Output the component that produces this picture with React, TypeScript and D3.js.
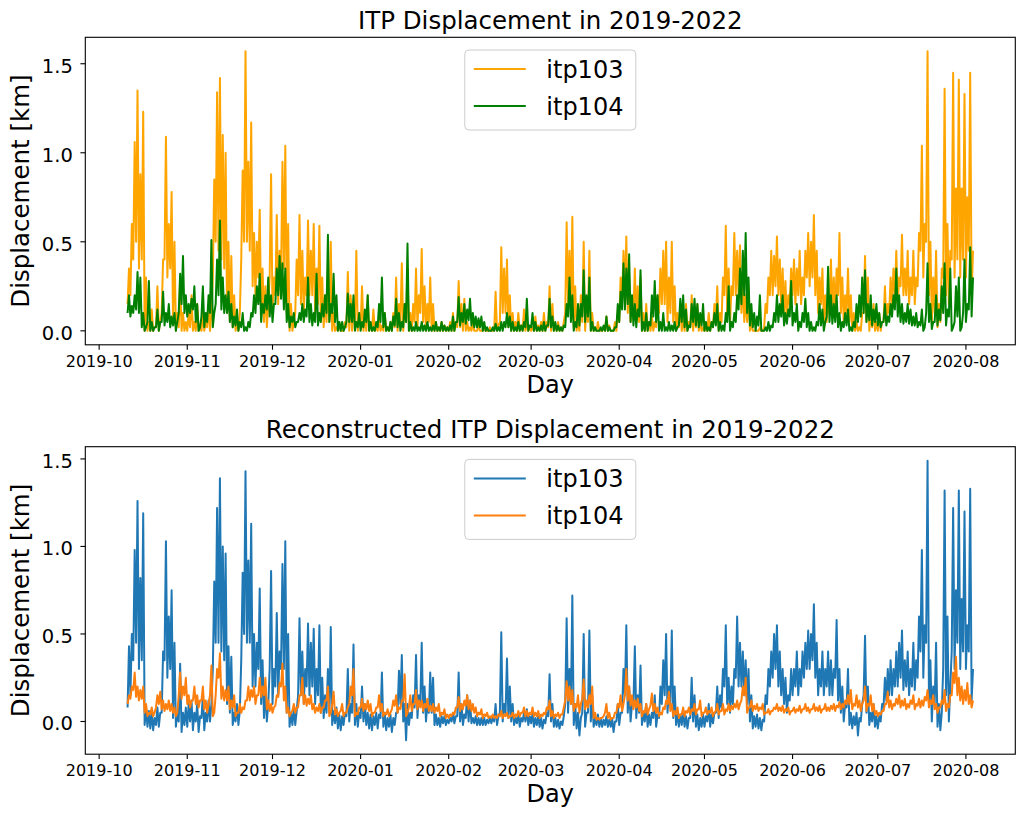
import React from 'react';
import * as d3 from 'd3';

// daily highs and lows, 2019-10-11 .. 2020-08-03 (one row per month)
const startDay = '2019-10-11';

const obsItp103 = [
  0.35, 0.6, 1.06, 1.35, 0.88, 1.23, 0.3, 0.05, 0.12, 0.02, 0.25, 0.05, 0.4, 1.09, 0.6, 0.78, 0.5, 0.1, 0.3, 0.1, 0.05,
  0.1, 0.2, 0.05, 0.15, 0.02, 0.1, 0.05, 0.15, 0.1, 0.85, 1.34, 1.42, 1.1, 1.0, 0.5, 0.42, 0.2, 0.05, 0.1, 0.9, 1.57, 0.95, 1.17, 0.55, 0.5, 0.68, 0.35, 0.25, 0.15, 0.88,
  0.3, 0.65, 0.45, 0.95, 1.04, 0.6, 0.15, 0.05, 0.4, 0.65, 0.45, 0.3, 0.62, 0.45, 0.6, 0.35, 0.59, 0.3, 0.2, 0.3, 0.5, 0.1, 0.02, 0.05, 0.0, 0.05, 0.33, 0.2, 0.1, 0.45, 0.1,
  0.25, 0.1, 0.2, 0.05, 0.12, 0.02, 0.08, 0.03, 0.1, 0.02, 0.05, 0.1, 0.3, 0.15, 0.38, 0.15, 0.35, 0.1, 0.15, 0.35, 0.2, 0.46, 0.25, 0.15, 0.3, 0.15, 0.05, 0.02, 0.05, 0.03, 0.02,
  0.05, 0.1, 0.05, 0.28, 0.15, 0.18, 0.05, 0.02, 0.05, 0.0, 0.03, 0.0, 0.02, 0.0, 0.02, 0.0, 0.22, 0.03, 0.47, 0.35, 0.4, 0.2, 0.1, 0.05, 0.1, 0.03, 0.12, 0.05, 0.02,
  0.02, 0.08, 0.03, 0.05, 0.1, 0.05, 0.25, 0.15, 0.03, 0.05, 0.02, 0.05, 0.61, 0.45, 0.64, 0.25, 0.05, 0.2, 0.5, 0.15, 0.45, 0.1, 0.02, 0.05, 0.0, 0.02, 0.08, 0.03, 0.0, 0.05, 0.1,
  0.3, 0.45, 0.53, 0.3, 0.2, 0.35, 0.25, 0.3, 0.1, 0.15, 0.05, 0.08, 0.05, 0.2, 0.35, 0.45, 0.5, 0.3, 0.5, 0.25, 0.1, 0.15, 0.08, 0.15, 0.05, 0.2, 0.1, 0.15, 0.05, 0.02,
  0.02, 0.1, 0.05, 0.15, 0.25, 0.1, 0.3, 0.59, 0.35, 0.25, 0.55, 0.45, 0.48, 0.3, 0.2, 0.25, 0.05, 0.0, 0.0, 0.02, 0.0, 0.15, 0.3, 0.45, 0.42, 0.53, 0.4, 0.35, 0.28, 0.2, 0.35,
  0.4, 0.35, 0.45, 0.3, 0.45, 0.55, 0.5, 0.65, 0.45, 0.3, 0.35, 0.2, 0.15, 0.4, 0.3, 0.35, 0.55, 0.3, 0.2, 0.35, 0.2, 0.1, 0.05, 0.02, 0.1, 0.42, 0.3, 0.1, 0.15, 0.05,
  0.1, 0.05, 0.25, 0.15, 0.3, 0.35, 0.45, 0.3, 0.54, 0.35, 0.45, 0.3, 0.45, 0.3, 0.55, 1.04, 0.6, 1.57, 0.5, 0.3, 0.45, 0.15, 0.35, 1.36, 0.6, 0.45, 1.45, 0.8, 1.41, 0.8, 1.33,
  0.75, 1.45, 0.45,
];
const obsItp103Low = [
  0.15, 0.2, 0.4, 0.5, 0.35, 0.4, 0.0, 0.0, 0.0, 0.0, 0.02, 0.0, 0.1, 0.4, 0.3, 0.35, 0.05, 0.0, 0.02, 0.0, 0.0,
  0.0, 0.02, 0.0, 0.0, 0.0, 0.0, 0.0, 0.02, 0.0, 0.3, 0.5, 0.45, 0.4, 0.35, 0.1, 0.05, 0.02, 0.0, 0.0, 0.4, 0.5, 0.5, 0.45, 0.25, 0.2, 0.3, 0.1, 0.05, 0.02, 0.3,
  0.1, 0.2, 0.15, 0.3, 0.35, 0.1, 0.0, 0.0, 0.1, 0.2, 0.15, 0.1, 0.2, 0.2, 0.2, 0.1, 0.15, 0.05, 0.02, 0.05, 0.05, 0.0, 0.0, 0.0, 0.0, 0.0, 0.02, 0.0, 0.0, 0.05, 0.0,
  0.02, 0.0, 0.0, 0.0, 0.0, 0.0, 0.0, 0.0, 0.0, 0.0, 0.0, 0.0, 0.02, 0.0, 0.05, 0.0, 0.05, 0.0, 0.0, 0.05, 0.02, 0.1, 0.05, 0.0, 0.05, 0.0, 0.0, 0.0, 0.0, 0.0, 0.0,
  0.0, 0.0, 0.0, 0.02, 0.02, 0.0, 0.0, 0.0, 0.0, 0.0, 0.0, 0.0, 0.0, 0.0, 0.0, 0.0, 0.0, 0.0, 0.05, 0.1, 0.1, 0.02, 0.0, 0.0, 0.0, 0.0, 0.0, 0.0, 0.0,
  0.0, 0.0, 0.0, 0.0, 0.0, 0.0, 0.02, 0.0, 0.0, 0.0, 0.0, 0.0, 0.1, 0.15, 0.1, 0.02, 0.0, 0.0, 0.05, 0.0, 0.05, 0.0, 0.0, 0.0, 0.0, 0.0, 0.0, 0.0, 0.0, 0.0, 0.0,
  0.05, 0.15, 0.2, 0.1, 0.05, 0.1, 0.05, 0.05, 0.0, 0.0, 0.0, 0.0, 0.0, 0.02, 0.1, 0.15, 0.15, 0.05, 0.1, 0.05, 0.0, 0.02, 0.0, 0.0, 0.0, 0.02, 0.0, 0.02, 0.0, 0.0,
  0.0, 0.0, 0.0, 0.02, 0.05, 0.0, 0.05, 0.2, 0.1, 0.05, 0.2, 0.2, 0.2, 0.1, 0.05, 0.05, 0.0, 0.0, 0.0, 0.0, 0.0, 0.02, 0.1, 0.2, 0.2, 0.25, 0.2, 0.15, 0.1, 0.05, 0.15,
  0.2, 0.15, 0.2, 0.15, 0.2, 0.3, 0.25, 0.3, 0.2, 0.1, 0.15, 0.05, 0.05, 0.1, 0.1, 0.1, 0.2, 0.1, 0.05, 0.1, 0.05, 0.0, 0.0, 0.0, 0.0, 0.1, 0.05, 0.0, 0.02, 0.0,
  0.0, 0.0, 0.05, 0.05, 0.1, 0.15, 0.2, 0.15, 0.25, 0.2, 0.2, 0.15, 0.2, 0.15, 0.25, 0.45, 0.3, 0.5, 0.2, 0.05, 0.1, 0.02, 0.05, 0.3, 0.2, 0.15, 0.4, 0.3, 0.4, 0.3, 0.4,
  0.3, 0.45, 0.2,
];

const obsItp104 = [
  0.2, 0.14, 0.2, 0.33, 0.3, 0.1, 0.02, 0.28, 0.05, 0.02, 0.12, 0.05, 0.22, 0.1, 0.15, 0.08, 0.1, 0.05, 0.32, 0.42, 0.2,
  0.15, 0.18, 0.25, 0.15, 0.02, 0.25, 0.1, 0.2, 0.51, 0.1, 0.4, 0.62, 0.3, 0.2, 0.22, 0.15, 0.08, 0.12, 0.05, 0.1, 0.02, 0.05, 0.1, 0.2, 0.25, 0.32, 0.15, 0.2, 0.3, 0.2,
  0.15, 0.35, 0.42, 0.38, 0.35, 0.15, 0.08, 0.1, 0.05, 0.1, 0.15, 0.12, 0.3, 0.15, 0.1, 0.32, 0.1, 0.15, 0.2, 0.54, 0.15, 0.32, 0.2, 0.05, 0.05, 0.02, 0.21, 0.15, 0.2, 0.05, 0.1,
  0.05, 0.12, 0.2, 0.05, 0.02, 0.05, 0.15, 0.3, 0.1, 0.02, 0.05, 0.08, 0.18, 0.1, 0.05, 0.15, 0.49, 0.05, 0.02, 0.05, 0.02, 0.05, 0.03, 0.05, 0.02, 0.03, 0.05, 0.02, 0.05, 0.03, 0.02,
  0.03, 0.08, 0.05, 0.19, 0.1, 0.15, 0.12, 0.18, 0.1, 0.08, 0.07, 0.08, 0.05, 0.02, 0.0, 0.02, 0.04, 0.02, 0.05, 0.05, 0.1, 0.08, 0.05, 0.02, 0.05, 0.03, 0.05, 0.18, 0.03,
  0.1, 0.05, 0.02, 0.03, 0.05, 0.03, 0.18, 0.08, 0.05, 0.03, 0.02, 0.03, 0.15, 0.3, 0.2, 0.05, 0.15, 0.15, 0.34, 0.2, 0.3, 0.05, 0.02, 0.0, 0.02, 0.03, 0.08, 0.02, 0.0, 0.02, 0.15,
  0.22, 0.38, 0.35, 0.43, 0.2, 0.15, 0.12, 0.34, 0.05, 0.1, 0.05, 0.2, 0.28, 0.2, 0.05, 0.1, 0.02, 0.05, 0.03, 0.05, 0.02, 0.18, 0.2, 0.12, 0.03, 0.15, 0.18, 0.15, 0.1, 0.15,
  0.05, 0.02, 0.05, 0.1, 0.15, 0.05, 0.03, 0.1, 0.25, 0.05, 0.1, 0.2, 0.35, 0.45, 0.55, 0.3, 0.15, 0.1, 0.08, 0.2, 0.0, 0.02, 0.05, 0.03, 0.1, 0.2, 0.15, 0.2, 0.1, 0.12, 0.28,
  0.1, 0.15, 0.05, 0.1, 0.18, 0.1, 0.05, 0.02, 0.05, 0.15, 0.12, 0.05, 0.36, 0.2, 0.15, 0.2, 0.1, 0.05, 0.1, 0.12, 0.02, 0.05, 0.15, 0.2, 0.3, 0.34, 0.15, 0.2, 0.12, 0.15,
  0.1, 0.05, 0.15, 0.08, 0.15, 0.2, 0.35, 0.2, 0.15, 0.1, 0.15, 0.12, 0.08, 0.1, 0.05, 0.12, 0.02, 0.38, 0.15, 0.05, 0.2, 0.12, 0.25, 0.38, 0.12, 0.35, 0.02, 0.25, 0.3, 0.02, 0.4,
  0.15, 0.47, 0.3,
];
const obsItp104Low = [
  0.1, 0.08, 0.1, 0.12, 0.1, 0.02, 0.0, 0.05, 0.0, 0.0, 0.02, 0.0, 0.05, 0.03, 0.05, 0.02, 0.03, 0.0, 0.1, 0.15, 0.1,
  0.08, 0.1, 0.12, 0.05, 0.0, 0.08, 0.02, 0.05, 0.1, 0.02, 0.15, 0.2, 0.12, 0.1, 0.1, 0.05, 0.02, 0.03, 0.0, 0.02, 0.0, 0.0, 0.02, 0.08, 0.1, 0.15, 0.05, 0.1, 0.12, 0.08,
  0.05, 0.15, 0.2, 0.18, 0.12, 0.05, 0.02, 0.05, 0.02, 0.05, 0.06, 0.05, 0.08, 0.05, 0.03, 0.05, 0.03, 0.05, 0.08, 0.1, 0.05, 0.1, 0.05, 0.0, 0.0, 0.0, 0.05, 0.05, 0.05, 0.0, 0.02,
  0.0, 0.02, 0.05, 0.0, 0.0, 0.0, 0.02, 0.05, 0.02, 0.0, 0.0, 0.0, 0.03, 0.02, 0.0, 0.02, 0.05, 0.0, 0.0, 0.0, 0.0, 0.0, 0.0, 0.0, 0.0, 0.0, 0.0, 0.0, 0.0, 0.0, 0.0,
  0.0, 0.0, 0.0, 0.05, 0.03, 0.05, 0.04, 0.06, 0.03, 0.02, 0.02, 0.02, 0.0, 0.0, 0.0, 0.0, 0.0, 0.0, 0.0, 0.0, 0.02, 0.02, 0.0, 0.0, 0.0, 0.0, 0.0, 0.02, 0.0,
  0.02, 0.0, 0.0, 0.0, 0.0, 0.0, 0.03, 0.02, 0.0, 0.0, 0.0, 0.0, 0.02, 0.08, 0.05, 0.0, 0.02, 0.03, 0.08, 0.05, 0.08, 0.0, 0.0, 0.0, 0.0, 0.0, 0.0, 0.0, 0.0, 0.0, 0.02,
  0.05, 0.12, 0.12, 0.15, 0.05, 0.03, 0.02, 0.08, 0.0, 0.0, 0.0, 0.03, 0.08, 0.05, 0.0, 0.0, 0.0, 0.0, 0.0, 0.0, 0.0, 0.03, 0.05, 0.02, 0.0, 0.02, 0.05, 0.03, 0.02, 0.03,
  0.0, 0.0, 0.0, 0.02, 0.03, 0.0, 0.0, 0.0, 0.05, 0.0, 0.02, 0.05, 0.12, 0.15, 0.2, 0.1, 0.03, 0.02, 0.0, 0.03, 0.0, 0.0, 0.0, 0.0, 0.02, 0.05, 0.05, 0.08, 0.03, 0.04, 0.08,
  0.03, 0.05, 0.0, 0.02, 0.05, 0.02, 0.0, 0.0, 0.0, 0.03, 0.03, 0.0, 0.08, 0.05, 0.04, 0.05, 0.02, 0.0, 0.02, 0.03, 0.0, 0.0, 0.02, 0.05, 0.08, 0.1, 0.05, 0.06, 0.03, 0.05,
  0.03, 0.02, 0.05, 0.03, 0.05, 0.08, 0.12, 0.08, 0.05, 0.04, 0.05, 0.04, 0.03, 0.03, 0.02, 0.03, 0.0, 0.1, 0.05, 0.01, 0.05, 0.03, 0.06, 0.1, 0.03, 0.08, 0.0, 0.05, 0.08, 0.0, 0.1,
  0.05, 0.12, 0.08,
];

const recItp103 = [
  0.43, 0.5, 0.98, 1.26, 0.82, 1.19, 0.08, 0.06, 0.05, 0.02, 0.08, 0.05, 0.4, 1.03, 0.6, 0.75, 0.45, 0.05, 0.33, 0.05, 0.08,
  0.1, 0.12, 0.05, 0.1, 0.03, 0.15, 0.05, 0.12, 0.1, 0.8, 1.22, 1.39, 1.0, 0.96, 0.43, 0.37, 0.05, 0.1, 0.06, 0.85, 1.43, 0.92, 1.13, 0.5, 0.45, 0.76, 0.35, 0.2, 0.1, 0.86,
  0.3, 0.62, 0.4, 0.9, 1.03, 0.5, 0.05, 0.08, 0.06, 0.59, 0.4, 0.3, 0.56, 0.45, 0.53, 0.3, 0.55, 0.25, 0.15, 0.3, 0.54, 0.06, 0.08, 0.04, 0.03, 0.05, 0.3, 0.1, 0.44, 0.1, 0.05,
  0.2, 0.1, 0.05, 0.04, 0.03, 0.05, 0.04, 0.28, 0.05, 0.02, 0.04, 0.02, 0.05, 0.29, 0.38, 0.1, 0.1, 0.05, 0.15, 0.38, 0.15, 0.45, 0.2, 0.1, 0.28, 0.25, 0.04, 0.02, 0.03, 0.03, 0.01,
  0.02, 0.05, 0.03, 0.28, 0.1, 0.04, 0.15, 0.12, 0.02, 0.03, 0.02, 0.02, 0.02, 0.01, 0.02, 0.02, 0.1, 0.03, 0.51, 0.1, 0.36, 0.2, 0.1, 0.02, 0.05, 0.02, 0.05, 0.07, 0.03,
  0.05, 0.02, 0.03, 0.02, 0.01, 0.05, 0.27, 0.1, 0.02, 0.01, 0.0, 0.03, 0.59, 0.3, 0.72, 0.1, 0.05, 0.02, 0.5, 0.05, 0.52, 0.15, 0.02, 0.04, 0.02, 0.01, 0.03, 0.01, 0.02, 0.0, 0.1,
  0.05, 0.3, 0.55, 0.2, 0.1, 0.43, 0.15, 0.32, 0.05, 0.1, 0.04, 0.05, 0.15, 0.04, 0.2, 0.35, 0.5, 0.2, 0.52, 0.2, 0.05, 0.04, 0.05, 0.03, 0.02, 0.25, 0.15, 0.04, 0.02, 0.04,
  0.03, 0.1, 0.04, 0.05, 0.2, 0.15, 0.3, 0.55, 0.25, 0.2, 0.3, 0.6, 0.45, 0.4, 0.35, 0.3, 0.15, 0.03, 0.04, 0.02, 0.01, 0.15, 0.3, 0.4, 0.5, 0.55, 0.4, 0.3, 0.25, 0.15, 0.3,
  0.3, 0.4, 0.3, 0.4, 0.45, 0.52, 0.5, 0.67, 0.45, 0.3, 0.4, 0.3, 0.4, 0.35, 0.3, 0.58, 0.3, 0.2, 0.1, 0.3, 0.05, 0.03, 0.05, 0.02, 0.1, 0.49, 0.2, 0.05, 0.1, 0.03,
  0.03, 0.1, 0.25, 0.3, 0.35, 0.3, 0.4, 0.45, 0.52, 0.35, 0.4, 0.3, 0.45, 0.35, 0.6, 0.98, 0.55, 1.49, 0.35, 0.2, 0.45, 0.1, 0.05, 1.32, 0.6, 0.2, 1.22, 0.75, 1.32, 0.7, 1.2,
  0.55, 1.33, 0.3,
];
const recItp103Low = [
  0.08, 0.15, 0.35, 0.45, 0.3, 0.35, -0.02, -0.03, -0.04, -0.05, -0.02, -0.03, 0.05, 0.35, 0.25, 0.3, 0.02, -0.03, 0.0, -0.06, -0.02,
  -0.03, 0.0, -0.05, 0.0, -0.06, 0.02, -0.05, 0.0, 0.0, 0.3, 0.45, 0.45, 0.4, 0.35, 0.1, 0.05, -0.02, 0.0, -0.02, 0.35, 0.5, 0.45, 0.45, 0.2, 0.2, 0.3, 0.1, 0.02, 0.0, 0.3,
  0.1, 0.2, 0.15, 0.3, 0.3, 0.05, -0.03, -0.02, -0.02, 0.15, 0.15, 0.1, 0.2, 0.15, 0.2, 0.1, 0.15, 0.05, 0.02, 0.05, 0.05, -0.02, -0.01, -0.04, -0.05, -0.02, 0.03, 0.0, 0.05, -0.02, -0.03,
  0.02, 0.0, -0.02, -0.04, -0.05, -0.02, -0.04, 0.02, -0.03, -0.05, -0.03, -0.06, -0.02, 0.05, 0.1, 0.0, -0.107, -0.02, 0.02, 0.08, 0.02, 0.1, 0.05, 0.0, 0.05, 0.05, -0.02, -0.02, -0.03, -0.01, -0.02,
  -0.01, 0.0, -0.01, 0.03, 0.0, -0.02, 0.02, 0.0, -0.01, -0.01, -0.02, -0.02, -0.02, -0.02, -0.01, -0.01, 0.0, -0.02, 0.05, 0.0, 0.05, 0.02, 0.0, -0.02, -0.01, -0.03, 0.0, 0.0, -0.02,
  -0.01, -0.03, -0.02, -0.03, -0.04, -0.01, 0.03, 0.0, -0.03, -0.03, -0.04, -0.02, 0.1, 0.05, 0.1, -0.02, -0.04, -0.08, 0.05, -0.03, 0.05, 0.0, -0.03, -0.02, -0.03, -0.03, -0.02, -0.03, -0.03, -0.06, 0.0,
  -0.02, 0.05, 0.15, 0.05, 0.0, 0.1, 0.02, 0.05, -0.02, 0.0, -0.03, -0.02, 0.02, -0.03, 0.02, 0.1, 0.15, 0.05, 0.1, 0.02, -0.02, -0.03, -0.02, -0.03, -0.04, 0.02, 0.0, -0.03, -0.05, -0.03,
  -0.03, 0.0, -0.03, -0.01, 0.05, 0.02, 0.08, 0.2, 0.1, 0.05, 0.1, 0.25, 0.2, 0.2, 0.15, 0.1, 0.0, -0.04, -0.03, -0.04, -0.05, 0.0, 0.1, 0.2, 0.25, 0.3, 0.2, 0.15, 0.1, 0.05, 0.12,
  0.15, 0.2, 0.15, 0.2, 0.25, 0.3, 0.3, 0.35, 0.25, 0.15, 0.2, 0.15, 0.2, 0.15, 0.15, 0.25, 0.12, 0.05, 0.0, 0.08, -0.02, -0.04, -0.02, -0.08, 0.0, 0.15, 0.05, -0.02, 0.0, -0.03,
  -0.04, 0.0, 0.08, 0.12, 0.15, 0.15, 0.2, 0.2, 0.25, 0.18, 0.2, 0.15, 0.2, 0.18, 0.25, 0.4, 0.25, 0.45, 0.1, 0.0, 0.1, -0.03, -0.05, 0.3, 0.15, 0.0, 0.4, 0.3, 0.45, 0.3, 0.4,
  0.3, 0.4, 0.12,
];

const recItp104 = [
  0.15, 0.2, 0.28, 0.2, 0.18, 0.2, 0.1, 0.05, 0.08, 0.05, 0.15, 0.17, 0.12, 0.1, 0.12, 0.1, 0.08, 0.05, 0.28, 0.2, 0.25,
  0.15, 0.12, 0.2, 0.15, 0.12, 0.2, 0.12, 0.1, 0.32, 0.05, 0.3, 0.39, 0.2, 0.18, 0.2, 0.12, 0.15, 0.05, 0.1, 0.08, 0.12, 0.2, 0.18, 0.2, 0.15, 0.25, 0.2, 0.25, 0.12, 0.1,
  0.08, 0.15, 0.22, 0.33, 0.2, 0.08, 0.05, 0.1, 0.08, 0.15, 0.25, 0.15, 0.13, 0.15, 0.1, 0.08, 0.1, 0.08, 0.12, 0.2, 0.05, 0.17, 0.07, 0.05, 0.1, 0.05, 0.08, 0.2, 0.3, 0.05, 0.08,
  0.13, 0.1, 0.12, 0.1, 0.05, 0.08, 0.15, 0.1, 0.05, 0.07, 0.05, 0.12, 0.15, 0.08, 0.12, 0.27, 0.05, 0.15, 0.1, 0.18, 0.12, 0.12, 0.1, 0.13, 0.09, 0.1, 0.08, 0.1, 0.05, 0.07, 0.04,
  0.04, 0.05, 0.08, 0.14, 0.1, 0.12, 0.15, 0.12, 0.1, 0.08, 0.05, 0.07, 0.04, 0.05, 0.03, 0.04, 0.03, 0.04, 0.06, 0.04, 0.05, 0.03, 0.05, 0.04, 0.06, 0.05, 0.08, 0.06, 0.05,
  0.08, 0.05, 0.06, 0.04, 0.05, 0.08, 0.12, 0.06, 0.04, 0.05, 0.04, 0.08, 0.23, 0.2, 0.18, 0.1, 0.15, 0.1, 0.24, 0.12, 0.15, 0.2, 0.05, 0.02, 0.02, 0.03, 0.1, 0.05, 0.02, 0.05, 0.1,
  0.15, 0.1, 0.3, 0.2, 0.15, 0.12, 0.13, 0.1, 0.06, 0.1, 0.07, 0.16, 0.1, 0.08, 0.05, 0.08, 0.12, 0.17, 0.1, 0.06, 0.08, 0.04, 0.08, 0.06, 0.08, 0.07, 0.1, 0.07, 0.12, 0.05,
  0.08, 0.06, 0.08, 0.05, 0.1, 0.06, 0.1, 0.07, 0.1, 0.09, 0.1, 0.12, 0.1, 0.2, 0.25, 0.08, 0.12, 0.09, 0.1, 0.08, 0.1, 0.05, 0.07, 0.06, 0.08, 0.1, 0.08, 0.09, 0.07, 0.08, 0.06,
  0.08, 0.07, 0.09, 0.07, 0.1, 0.08, 0.07, 0.1, 0.08, 0.09, 0.07, 0.1, 0.08, 0.09, 0.1, 0.09, 0.11, 0.1, 0.12, 0.15, 0.18, 0.1, 0.15, 0.12, 0.1, 0.2, 0.1, 0.15, 0.1, 0.06,
  0.05, 0.06, 0.1, 0.17, 0.12, 0.1, 0.13, 0.15, 0.12, 0.13, 0.1, 0.12, 0.15, 0.1, 0.13, 0.12, 0.14, 0.18, 0.12, 0.15, 0.1, 0.08, 0.12, 0.18, 0.1, 0.15, 0.28, 0.37, 0.25, 0.2, 0.18,
  0.22, 0.15, 0.12,
];
const recItp104Low = [
  0.1, 0.13, 0.18, 0.14, 0.12, 0.13, 0.05, 0.03, 0.04, 0.03, 0.08, 0.1, 0.07, 0.06, 0.07, 0.06, 0.05, 0.03, 0.15, 0.13, 0.15,
  0.1, 0.08, 0.12, 0.1, 0.08, 0.12, 0.07, 0.05, 0.15, 0.03, 0.15, 0.25, 0.13, 0.12, 0.12, 0.07, 0.08, 0.03, 0.05, 0.05, 0.07, 0.12, 0.12, 0.14, 0.1, 0.15, 0.14, 0.15, 0.07, 0.06,
  0.05, 0.09, 0.14, 0.2, 0.12, 0.05, 0.03, 0.06, 0.05, 0.08, 0.15, 0.1, 0.09, 0.1, 0.07, 0.05, 0.06, 0.05, 0.08, 0.12, 0.03, 0.1, 0.04, 0.03, 0.06, 0.03, 0.05, 0.1, 0.15, 0.03, 0.04,
  0.08, 0.06, 0.07, 0.06, 0.03, 0.05, 0.08, 0.06, 0.03, 0.04, 0.03, 0.07, 0.09, 0.05, 0.07, 0.12, 0.03, 0.08, 0.06, 0.1, 0.07, 0.08, 0.06, 0.08, 0.06, 0.06, 0.05, 0.06, 0.03, 0.04, 0.02,
  0.02, 0.03, 0.04, 0.08, 0.06, 0.07, 0.09, 0.07, 0.06, 0.05, 0.03, 0.04, 0.02, 0.03, 0.02, 0.02, 0.02, 0.02, 0.03, 0.02, 0.03, 0.02, 0.03, 0.02, 0.03, 0.03, 0.05, 0.03, 0.03,
  0.04, 0.03, 0.03, 0.02, 0.03, 0.04, 0.07, 0.03, 0.02, 0.03, 0.02, 0.04, 0.12, 0.12, 0.1, 0.06, 0.08, 0.05, 0.13, 0.07, 0.08, 0.1, 0.02, 0.01, 0.01, 0.02, 0.05, 0.02, 0.01, 0.02, 0.05,
  0.08, 0.06, 0.15, 0.12, 0.09, 0.07, 0.08, 0.06, 0.03, 0.05, 0.04, 0.09, 0.06, 0.05, 0.03, 0.04, 0.07, 0.1, 0.06, 0.03, 0.04, 0.02, 0.04, 0.03, 0.05, 0.04, 0.06, 0.04, 0.07, 0.03,
  0.05, 0.04, 0.05, 0.03, 0.06, 0.04, 0.06, 0.04, 0.06, 0.06, 0.07, 0.08, 0.07, 0.12, 0.15, 0.05, 0.08, 0.06, 0.07, 0.06, 0.07, 0.04, 0.05, 0.04, 0.06, 0.07, 0.06, 0.06, 0.05, 0.06, 0.04,
  0.06, 0.05, 0.06, 0.05, 0.07, 0.06, 0.05, 0.07, 0.06, 0.06, 0.05, 0.07, 0.06, 0.06, 0.07, 0.06, 0.08, 0.07, 0.08, 0.1, 0.1, 0.07, 0.09, 0.08, 0.06, 0.12, 0.06, 0.09, 0.06, 0.04,
  0.03, 0.04, 0.06, 0.1, 0.08, 0.07, 0.09, 0.1, 0.08, 0.09, 0.07, 0.08, 0.1, 0.07, 0.09, 0.08, 0.09, 0.12, 0.08, 0.1, 0.07, 0.05, 0.08, 0.1, 0.06, 0.08, 0.15, 0.22, 0.15, 0.12, 0.1,
  0.12, 0.1, 0.08,
];

const monthTicks = ['2019-10', '2019-11', '2019-12', '2020-01', '2020-02', '2020-03', '2020-04', '2020-05', '2020-06', '2020-07', '2020-08'];
const yTicks = [0, 0.5, 1.0, 1.5];
const seriesNames = ['itp103', 'itp104'];

const W = 1024;
const H = 818;
const FONT = 'DejaVu Sans';

interface Series {
  name: string;
  color: string;
  high: number[];
  low: number[];
}

const day0 = d3.utcParse('%Y-%m-%d')(startDay) as Date;
const parseMonth = d3.utcParse('%Y-%m');

// each day contributes its low (midnight) then its high (noon)
function toPoints(s: Series): [Date, number][] {
  return s.high.flatMap((h, i) => [
    [d3.utcHour.offset(day0, i * 24), s.low[i]] as [Date, number],
    [d3.utcHour.offset(day0, i * 24 + 12), h] as [Date, number],
  ]);
}

const Panel: React.FC<{ title: string; top: number; series: Series[] }> = ({ title, top, series }) => {
  const left = 85.3;
  const right = 1015.3;
  const bottom = top + 307.5;
  const cx = (left + right) / 2;

  const pts = series.map(toPoints);
  const flat = pts.flat();

  // matplotlib style 5% margins
  const [t0, t1] = d3.extent(flat, d => d[0]) as [Date, Date];
  const tPad = (+t1 - +t0) * 0.05;
  const x = d3.scaleUtc()
    .domain([new Date(+t0 - tPad), new Date(+t1 + tPad)])
    .range([left, right]);

  const [v0, v1] = d3.extent(flat, d => d[1]) as [number, number];
  const vPad = (v1 - v0) * 0.05;
  const y = d3.scaleLinear().domain([v0 - vPad, v1 + vPad]).range([bottom, top]);

  const line = d3.line<[Date, number]>()
    .x(d => x(d[0]))
    .y(d => y(d[1]));

  const fmt = d3.format('.1f');

  return (
    <g>
      {series.map((s, k) => (
        <path key={s.name} d={line(pts[k]) || ''} fill="none" stroke={s.color}
          strokeWidth={2} strokeLinejoin="round" />
      ))}

      <rect x={left} y={top} width={right - left} height={bottom - top}
        fill="none" stroke="#000" strokeWidth={1.1} />

      {/* x axis */}
      {monthTicks.map(m => {
        const px = x(parseMonth(m) as Date);
        return (
          <g key={m}>
            <line x1={px} x2={px} y1={bottom} y2={bottom + 4.9} stroke="#000" strokeWidth={1.1} />
            <text x={px} y={bottom + 22} textAnchor="middle" fontSize={16} fontFamily={FONT}>{m}</text>
          </g>
        );
      })}
      <text x={cx} y={bottom + 48} textAnchor="middle" fontSize={24} fontFamily={FONT}>Day</text>

      {/* y axis */}
      {yTicks.map(t => (
        <g key={t}>
          <line x1={left - 4.9} x2={left} y1={y(t)} y2={y(t)} stroke="#000" strokeWidth={1.1} />
          <text x={left - 12.5} y={y(t) + 8.8} textAnchor="end" fontSize={19.5} fontFamily={FONT}>{fmt(t)}</text>
        </g>
      ))}
      <text transform={`translate(29.3, ${(top + bottom) / 2}) rotate(-90)`} textAnchor="middle"
        fontSize={24.5} fontFamily={FONT}>Displacement [km]</text>

      <text x={cx} y={top - 8.5} textAnchor="middle" fontSize={24.5} fontFamily={FONT}>{title}</text>

      {/* legend */}
      <g transform={`translate(${cx - 85.5}, ${top + 12.7})`}>
        <rect x={0} y={0} width={171} height={80} rx={4} fill="#fff" fillOpacity={0.8} stroke="#cccccc" strokeWidth={1} />
        {series.map((s, i) => (
          <g key={s.name} transform={`translate(0, ${19 + i * 37})`}>
            <line x1={9} x2={61} y1={0} y2={0} stroke={s.color} strokeWidth={2} />
            <text x={81.5} y={9} fontSize={24} fontFamily={FONT}>{s.name}</text>
          </g>
        ))}
      </g>
    </g>
  );
};

export default function App() {
  return (
    <div style={{ position: 'absolute', left: 0, top: 0, width: W, height: H, background: '#fff' }}>
      <svg width={W} height={H} viewBox={`0 0 ${W} ${H}`}>
        <rect width={W} height={H} fill="#fff" />
        <Panel
          title="ITP Displacement in 2019-2022"
          top={37.3}
          series={[
            { name: seriesNames[0], color: 'orange', high: obsItp103, low: obsItp103Low },
            { name: seriesNames[1], color: 'green', high: obsItp104, low: obsItp104Low },
          ]}
        />
        <Panel
          title="Reconstructed ITP Displacement in 2019-2022"
          top={446.7}
          series={[
            { name: seriesNames[0], color: '#1f77b4', high: recItp103, low: recItp103Low },
            { name: seriesNames[1], color: '#ff7f0e', high: recItp104, low: recItp104Low },
          ]}
        />
      </svg>
    </div>
  );
}
